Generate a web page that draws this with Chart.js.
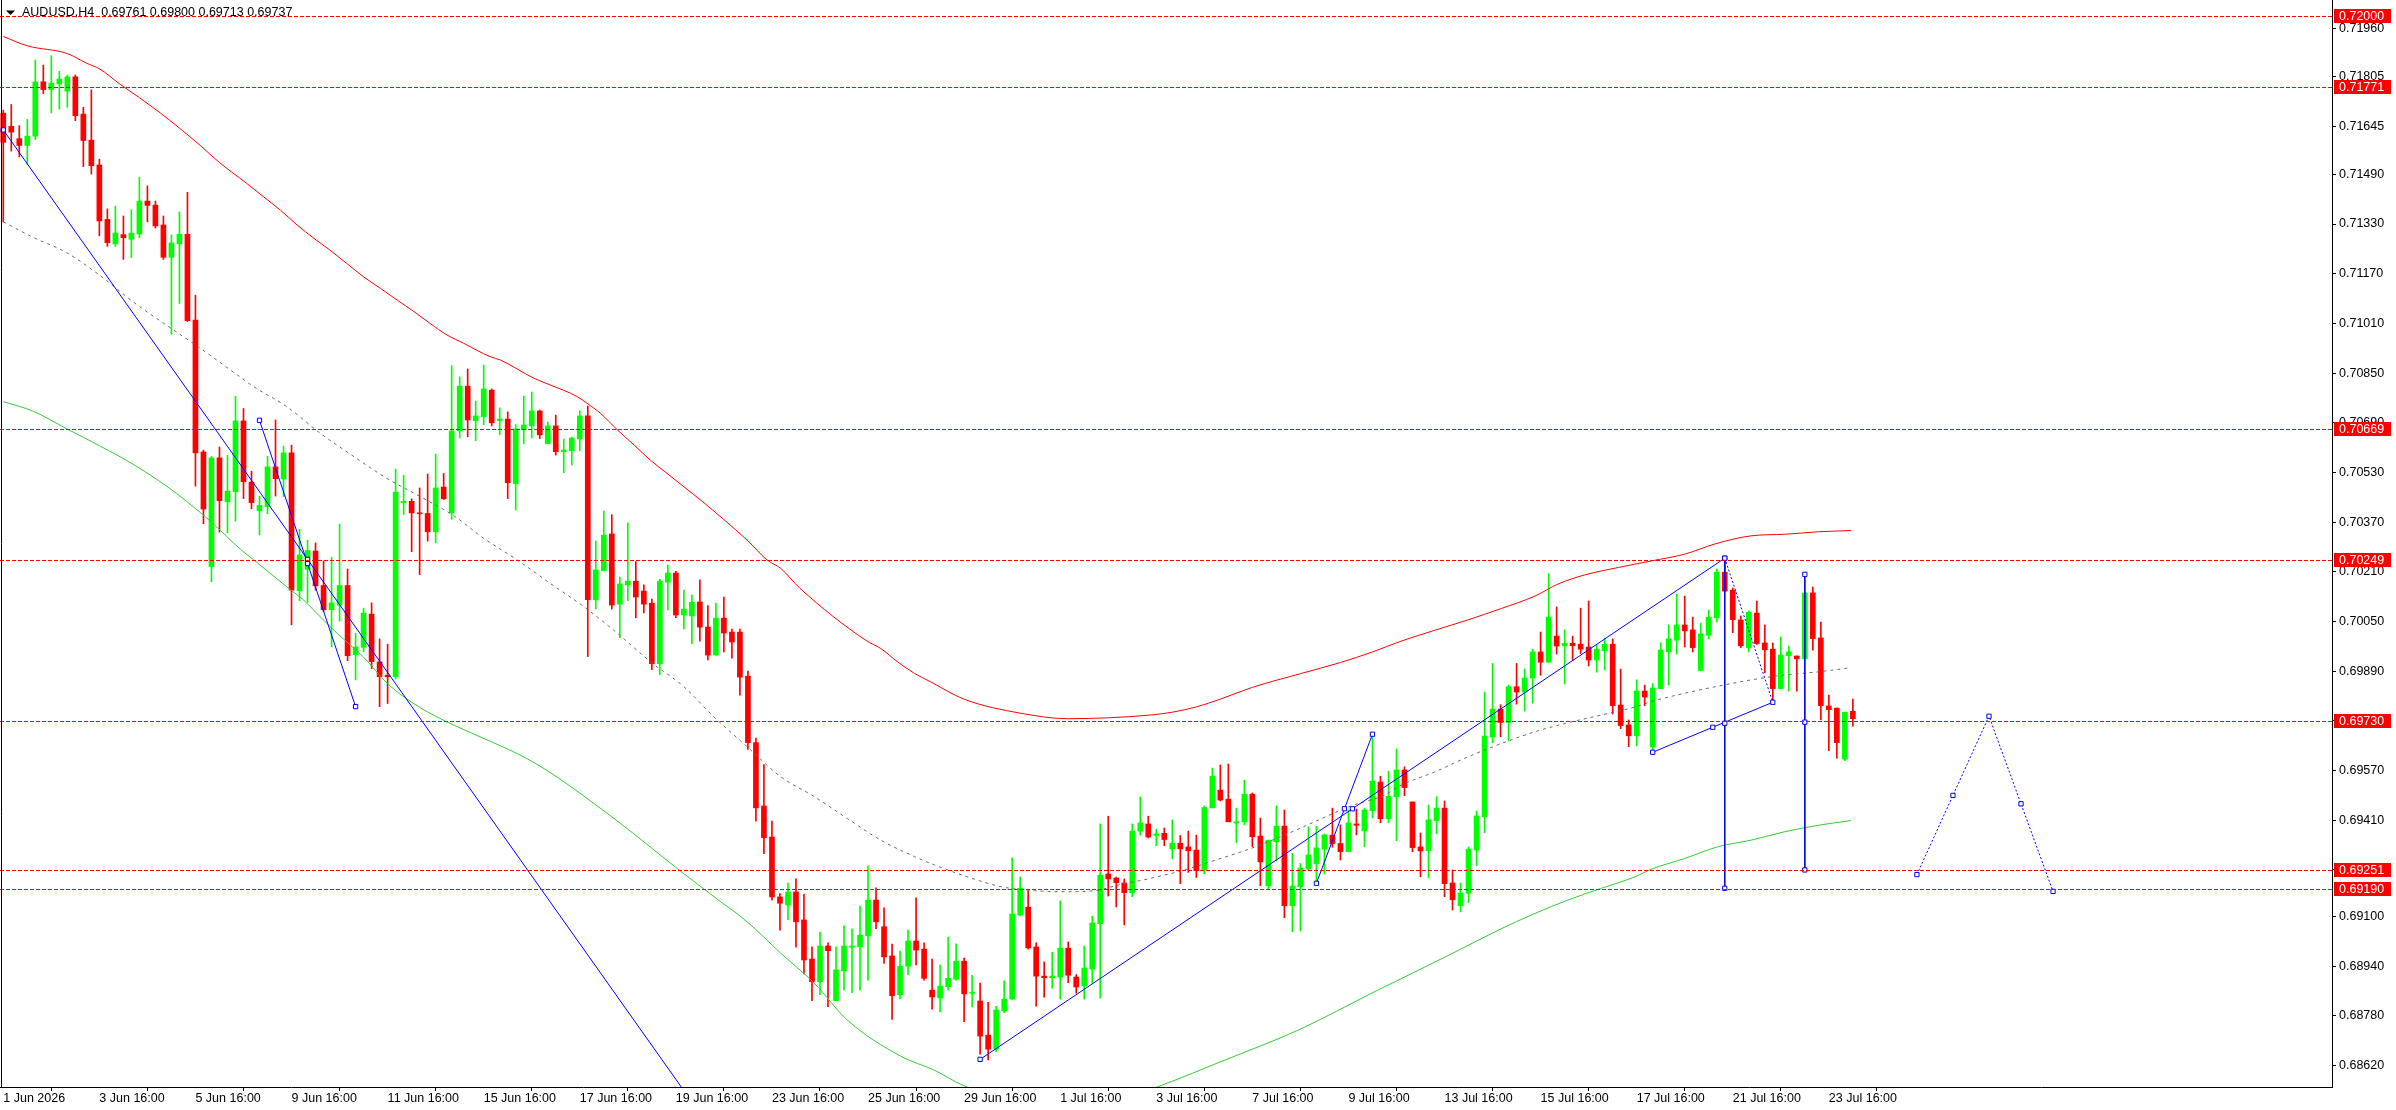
<!DOCTYPE html>
<html>
<head>
<meta charset="utf-8">
<title>AUDUSD,H4</title>
<script src="https://cdn.jsdelivr.net/npm/chart.js@4.4.1/dist/chart.umd.min.js"></script>
<style>
  html, body { margin: 0; padding: 0; background: #fff; overflow: hidden; }
  canvas { display: block; }
</style>
</head>
<body>
<canvas id="myChart" width="2396" height="1110"></canvas>
<script>
// H4 candles, index 0 = first bar on screen
const opens = [
  0.71687, 0.71645, 0.71605, 0.71583, 0.71613, 0.71788, 0.71763, 0.71781, 0.71758, 0.71804, 0.71684, 0.71600,
  0.71520, 0.71345, 0.71266, 0.71296, 0.71281, 0.71298, 0.71404, 0.71391, 0.71327, 0.71223, 0.71266, 0.71297,
  0.71021, 0.70596, 0.70227, 0.70577, 0.70436, 0.70468, 0.70696, 0.70499, 0.70407, 0.70420, 0.70548, 0.70509,
  0.70593, 0.70149, 0.70218, 0.70277, 0.70166, 0.70088, 0.70103, 0.70166, 0.69943, 0.69967, 0.70074, 0.69920,
  0.69877, 0.69872, 0.70433, 0.70437, 0.70400, 0.70398, 0.70339, 0.70483, 0.70400, 0.70664, 0.70808, 0.70697,
  0.70710, 0.70795, 0.70697, 0.70702, 0.70494, 0.70667, 0.70680, 0.70728, 0.70623, 0.70680, 0.70597, 0.70600,
  0.70638, 0.70712, 0.70120, 0.70214, 0.70332, 0.70106, 0.70168, 0.70180, 0.70148, 0.70109, 0.69914, 0.70177,
  0.70206, 0.70071, 0.70068, 0.70113, 0.70032, 0.69942, 0.70061, 0.70016, 0.70016, 0.69874, 0.69660, 0.69456,
  0.69356, 0.69163, 0.69137, 0.69179, 0.69089, 0.68963, 0.68890, 0.69005, 0.68829, 0.68925, 0.69001, 0.69003,
  0.69038, 0.69153, 0.69067, 0.68973, 0.68848, 0.68940, 0.69021, 0.68995, 0.68863, 0.68838, 0.68874, 0.68898,
  0.68956, 0.68853, 0.68828, 0.68718, 0.68673, 0.68796, 0.68834, 0.69105, 0.69130, 0.69002, 0.68908, 0.68903,
  0.68905, 0.68998, 0.68905, 0.68876, 0.68931, 0.69077, 0.69237, 0.69224, 0.69208, 0.69177, 0.69375, 0.69398,
  0.69361, 0.69368, 0.69318, 0.69336, 0.69324, 0.69314, 0.69250, 0.69450, 0.69507, 0.69478, 0.69401, 0.69405,
  0.69494, 0.69359, 0.69199, 0.69341, 0.69391, 0.69135, 0.69196, 0.69253, 0.69270, 0.69317, 0.69362, 0.69335,
  0.69309, 0.69398, 0.69376, 0.69441, 0.69533, 0.69415, 0.69486, 0.69572, 0.69469, 0.69324, 0.69312, 0.69409,
  0.69449, 0.69208, 0.69135, 0.69175, 0.69314, 0.69421, 0.69678, 0.69768, 0.69725, 0.69840, 0.69823, 0.69868,
  0.69952, 0.69919, 0.70003, 0.69972, 0.69980, 0.69977, 0.69968, 0.69926, 0.69956, 0.69977, 0.69781, 0.69717,
  0.69682, 0.69826, 0.69646, 0.69834, 0.69953, 0.69990, 0.70039, 0.70023, 0.69892, 0.70006, 0.70062, 0.70209,
  0.70151, 0.70055, 0.69966, 0.70077, 0.69981, 0.69961, 0.69834, 0.69940, 0.69939, 0.69930, 0.70142, 0.69997,
  0.69778, 0.69771, 0.69607, 0.69761
];
const highs = [
  0.71697, 0.71715, 0.71647, 0.71667, 0.71858, 0.71842, 0.71872, 0.71822, 0.71810, 0.71810, 0.71706, 0.71762,
  0.71539, 0.71379, 0.71388, 0.71356, 0.71376, 0.71481, 0.71453, 0.71404, 0.71356, 0.71295, 0.71369, 0.71432,
  0.71101, 0.70602, 0.70582, 0.70612, 0.70585, 0.70775, 0.70736, 0.70534, 0.70454, 0.70582, 0.70699, 0.70615,
  0.70618, 0.70347, 0.70312, 0.70303, 0.70245, 0.70257, 0.70364, 0.70219, 0.70012, 0.70093, 0.70110, 0.69994,
  0.69977, 0.70541, 0.70521, 0.70445, 0.70480, 0.70525, 0.70589, 0.70527, 0.70874, 0.70838, 0.70863, 0.70760,
  0.70876, 0.70799, 0.70738, 0.70725, 0.70684, 0.70776, 0.70789, 0.70731, 0.70692, 0.70715, 0.70638, 0.70644,
  0.70729, 0.70744, 0.70309, 0.70406, 0.70394, 0.70193, 0.70368, 0.70243, 0.70168, 0.70122, 0.70186, 0.70232,
  0.70212, 0.70151, 0.70135, 0.70184, 0.70101, 0.70109, 0.70129, 0.70026, 0.70026, 0.69890, 0.69675, 0.69589,
  0.69407, 0.69174, 0.69208, 0.69221, 0.69172, 0.69002, 0.69050, 0.69015, 0.69002, 0.69070, 0.69060, 0.69134,
  0.69263, 0.69192, 0.69128, 0.69011, 0.68989, 0.69056, 0.69160, 0.69015, 0.68963, 0.68944, 0.69034, 0.69012,
  0.68966, 0.68911, 0.68886, 0.68824, 0.68811, 0.68893, 0.69289, 0.69227, 0.69182, 0.69015, 0.68954, 0.68985,
  0.69150, 0.69018, 0.68913, 0.69005, 0.69101, 0.69398, 0.69423, 0.69227, 0.69221, 0.69398, 0.69485, 0.69423,
  0.69381, 0.69385, 0.69411, 0.69361, 0.69375, 0.69362, 0.69456, 0.69578, 0.69588, 0.69591, 0.69449, 0.69539,
  0.69498, 0.69417, 0.69346, 0.69456, 0.69443, 0.69304, 0.69271, 0.69389, 0.69391, 0.69366, 0.69449, 0.69395,
  0.69443, 0.69446, 0.69449, 0.69687, 0.69552, 0.69568, 0.69639, 0.69582, 0.69469, 0.69369, 0.69459, 0.69486,
  0.69472, 0.69250, 0.69208, 0.69324, 0.69440, 0.69823, 0.69915, 0.69782, 0.69845, 0.69915, 0.69897, 0.69961,
  0.70016, 0.70204, 0.70097, 0.70023, 0.70003, 0.70093, 0.70116, 0.69974, 0.69997, 0.69994, 0.69897, 0.69733,
  0.69862, 0.69845, 0.69850, 0.69982, 0.70039, 0.70139, 0.70132, 0.70064, 0.70045, 0.70087, 0.70219, 0.70254,
  0.70158, 0.70068, 0.70084, 0.70116, 0.70039, 0.69981, 0.70000, 0.69971, 0.69939, 0.70145, 0.70161, 0.70048,
  0.69813, 0.69771, 0.69758, 0.69800
];
const lows = [
  0.71337, 0.71565, 0.71546, 0.71522, 0.71602, 0.71750, 0.71688, 0.71700, 0.71706, 0.71663, 0.71515, 0.71491,
  0.71292, 0.71258, 0.71258, 0.71216, 0.71222, 0.71286, 0.71337, 0.71317, 0.71216, 0.70975, 0.71074, 0.71016,
  0.70486, 0.70365, 0.70178, 0.70338, 0.70336, 0.70373, 0.70446, 0.70413, 0.70329, 0.70397, 0.70454, 0.70452,
  0.70039, 0.70117, 0.70111, 0.70151, 0.70082, 0.69969, 0.70051, 0.69924, 0.69862, 0.69953, 0.69898, 0.69776,
  0.69786, 0.69865, 0.70395, 0.70275, 0.70201, 0.70309, 0.70304, 0.70443, 0.70379, 0.70641, 0.70645, 0.70632,
  0.70684, 0.70680, 0.70652, 0.70446, 0.70409, 0.70622, 0.70641, 0.70639, 0.70623, 0.70586, 0.70529, 0.70554,
  0.70600, 0.69937, 0.70090, 0.70214, 0.70090, 0.69998, 0.70117, 0.70062, 0.70078, 0.69895, 0.69879, 0.70087,
  0.70062, 0.70026, 0.69979, 0.69987, 0.69926, 0.69942, 0.69952, 0.69932, 0.69813, 0.69638, 0.69407, 0.69302,
  0.69153, 0.69056, 0.69090, 0.69001, 0.68915, 0.68829, 0.68848, 0.68810, 0.68829, 0.68863, 0.68855, 0.68863,
  0.68895, 0.69061, 0.68949, 0.68769, 0.68835, 0.68913, 0.68944, 0.68895, 0.68802, 0.68793, 0.68863, 0.68895,
  0.68761, 0.68809, 0.68657, 0.68638, 0.68665, 0.68790, 0.68834, 0.69102, 0.68995, 0.68811, 0.68840, 0.68869,
  0.68834, 0.68887, 0.68853, 0.68834, 0.68885, 0.68837, 0.69166, 0.69131, 0.69073, 0.69164, 0.69362, 0.69353,
  0.69328, 0.69328, 0.69286, 0.69206, 0.69242, 0.69226, 0.69238, 0.69450, 0.69472, 0.69405, 0.69338, 0.69395,
  0.69325, 0.69199, 0.69189, 0.69279, 0.69096, 0.69051, 0.69054, 0.69250, 0.69212, 0.69237, 0.69323, 0.69282,
  0.69309, 0.69363, 0.69325, 0.69418, 0.69402, 0.69402, 0.69344, 0.69489, 0.69309, 0.69228, 0.69225, 0.69367,
  0.69164, 0.69121, 0.69115, 0.69145, 0.69264, 0.69370, 0.69660, 0.69679, 0.69665, 0.69784, 0.69762, 0.69787,
  0.69877, 0.69919, 0.69945, 0.69849, 0.69926, 0.69947, 0.69907, 0.69887, 0.69894, 0.69752, 0.69705, 0.69647,
  0.69650, 0.69779, 0.69630, 0.69834, 0.69845, 0.69945, 0.69968, 0.69952, 0.69892, 0.69994, 0.70048, 0.70145,
  0.70014, 0.69966, 0.69952, 0.69976, 0.69885, 0.69797, 0.69834, 0.69826, 0.69826, 0.69930, 0.69958, 0.69733,
  0.69634, 0.69610, 0.69602, 0.69713
];
const closes = [
  0.71593, 0.71626, 0.71583, 0.71613, 0.71788, 0.71763, 0.71784, 0.71797, 0.71804, 0.71679, 0.71599, 0.71518,
  0.71340, 0.71270, 0.71301, 0.71286, 0.71301, 0.71404, 0.71390, 0.71324, 0.71223, 0.71269, 0.71297, 0.71019,
  0.70593, 0.70412, 0.70577, 0.70439, 0.70470, 0.70696, 0.70500, 0.70433, 0.70424, 0.70548, 0.70510, 0.70593,
  0.70151, 0.70264, 0.70279, 0.70165, 0.70088, 0.70110, 0.70166, 0.69940, 0.69968, 0.70077, 0.69921, 0.69872,
  0.69872, 0.70467, 0.70437, 0.70400, 0.70397, 0.70339, 0.70480, 0.70445, 0.70664, 0.70808, 0.70699, 0.70712,
  0.70799, 0.70690, 0.70702, 0.70497, 0.70670, 0.70683, 0.70728, 0.70651, 0.70680, 0.70597, 0.70602, 0.70641,
  0.70712, 0.70120, 0.70216, 0.70328, 0.70103, 0.70171, 0.70180, 0.70129, 0.70106, 0.69914, 0.70180, 0.70206,
  0.70071, 0.70090, 0.70112, 0.70032, 0.69942, 0.70061, 0.70013, 0.69984, 0.69871, 0.69660, 0.69450, 0.69354,
  0.69163, 0.69143, 0.69179, 0.69083, 0.68960, 0.68890, 0.69005, 0.68990, 0.68928, 0.69005, 0.69005, 0.69040,
  0.69153, 0.69083, 0.68970, 0.68845, 0.68940, 0.69021, 0.68992, 0.68901, 0.68841, 0.68876, 0.68901, 0.68956,
  0.68851, 0.68856, 0.68715, 0.68673, 0.68799, 0.68834, 0.69108, 0.69191, 0.68999, 0.68908, 0.68903, 0.68908,
  0.68998, 0.68911, 0.68873, 0.68934, 0.69079, 0.69233, 0.69221, 0.69209, 0.69177, 0.69375, 0.69401, 0.69356,
  0.69366, 0.69348, 0.69336, 0.69318, 0.69312, 0.69248, 0.69451, 0.69552, 0.69475, 0.69405, 0.69405, 0.69494,
  0.69357, 0.69276, 0.69346, 0.69391, 0.69135, 0.69198, 0.69256, 0.69298, 0.69321, 0.69363, 0.69335, 0.69309,
  0.69401, 0.69394, 0.69443, 0.69536, 0.69415, 0.69487, 0.69572, 0.69515, 0.69322, 0.69311, 0.69411, 0.69449,
  0.69206, 0.69154, 0.69176, 0.69317, 0.69424, 0.69681, 0.69768, 0.69725, 0.69840, 0.69823, 0.69868, 0.69952,
  0.69919, 0.70064, 0.69971, 0.69980, 0.69972, 0.69961, 0.69926, 0.69961, 0.69977, 0.69779, 0.69715, 0.69682,
  0.69826, 0.69807, 0.69836, 0.69958, 0.69994, 0.70039, 0.70020, 0.69966, 0.70010, 0.70064, 0.70209, 0.70148,
  0.70056, 0.69972, 0.70080, 0.69979, 0.69959, 0.69834, 0.69942, 0.69952, 0.69930, 0.70142, 0.69995, 0.69779,
  0.69766, 0.69660, 0.69758, 0.69737
];

// moving averages at bar positions
const slowMaX = [0, 3, 8, 10.4, 12, 14.6, 17, 19.6, 22, 24.6, 27, 30.4, 32.5, 34.6, 36.7, 38.8, 40.8, 42.9, 45, 47.1,
  49.2, 51.3, 53.3, 55.4, 57.5, 60.8, 62.1, 66.3, 68.3, 71.7, 72.9, 74.6, 76.7, 78.8, 80.8, 82.9, 85, 87.1, 92.9, 95.4,
  97.1, 99.5, 107.7, 109.6, 111.7, 113.8, 115.8, 120, 127, 133, 138, 143.3, 146, 149, 152, 156, 162, 167, 171,
  174.6, 178.8, 182.9, 187.1, 191.3, 194.2, 197.5, 201.7, 205.8, 210, 213.8, 218.3, 222.5, 226.7, 230.8];
const slowMa = [0.71934, 0.71904, 0.71879, 0.71848, 0.71830, 0.71780, 0.71737, 0.71688, 0.71639, 0.71583, 0.71528,
  0.71461, 0.71418, 0.71375, 0.71327, 0.71284, 0.71246, 0.71203, 0.71160, 0.71123, 0.71085, 0.71048, 0.71010, 0.70973,
  0.70946, 0.70903, 0.70892, 0.70833, 0.70812, 0.70774, 0.70753, 0.70720, 0.70667, 0.70618, 0.70570, 0.70527, 0.70484,
  0.70441, 0.70312, 0.70248, 0.70221, 0.70157, 0.69990, 0.69963, 0.69920, 0.69883, 0.69856, 0.69800, 0.69755, 0.69737,
  0.69740, 0.69749, 0.69758, 0.69775, 0.69800, 0.69838, 0.69882, 0.69918, 0.69952, 0.69987, 0.70022, 0.70055, 0.70092,
  0.70132, 0.70171, 0.70200, 0.70224, 0.70245, 0.70267, 0.70300, 0.70326, 0.70331, 0.70339, 0.70343];

const midMaX = [0, 3.75, 7.9, 12.1, 16.3, 20.4, 24.6, 29.6, 31.3, 35.4, 39.6, 43.8, 47.9, 52.1, 56.3, 60, 64.2, 68.3,
  72.5, 76.7, 80.8, 85, 88.75, 92.9, 97.1, 101.3, 105.4, 109.6, 113.8, 116.3, 120.4, 124.6, 128.8, 132.9, 136.3, 139.2,
  143.3, 147.5, 151.7, 155.8, 160, 164.2, 168.3, 172.5, 174.6, 178.8, 182.9, 187.1, 191.3, 195.4, 199.6, 203.8, 205.8,
  210, 214.2, 218.3, 222.5, 226.7, 230.6];
const midMa = [0.71337, 0.71287, 0.71238, 0.71164, 0.71078, 0.71004, 0.70930, 0.70837, 0.70806, 0.70742, 0.70656,
  0.70581, 0.70511, 0.70452, 0.70390, 0.70318, 0.70248, 0.70173, 0.70098, 0.70012, 0.69921, 0.69840, 0.69743, 0.69647,
  0.69550, 0.69486, 0.69416, 0.69346, 0.69293, 0.69266, 0.69228, 0.69196, 0.69183, 0.69180, 0.69183, 0.69201, 0.69223,
  0.69250, 0.69284, 0.69319, 0.69362, 0.69410, 0.69456, 0.69491, 0.69523, 0.69566, 0.69614, 0.69657, 0.69695, 0.69724,
  0.69749, 0.69775, 0.69792, 0.69819, 0.69842, 0.69862, 0.69878, 0.69888, 0.69901];

const fastMaX = [0, 3.75, 7.9, 12.1, 16.3, 20.4, 22.9, 26.3, 29.6, 31.3, 35.4, 37.5, 39.6, 41.7, 45, 48, 51, 54.9,
  57.7, 66.4, 75.9, 84.6, 88.75, 92.9, 97.1, 101.3, 105.4, 112.1, 116.3, 119.8, 125, 132, 138, 144, 152.2, 161.7,
  171.2, 180.8, 186.7, 191.3, 195.4, 199.6, 203.8, 205.8, 210, 214.2, 218.3, 222.5, 226.7, 230.8];
const fastMa = [0.70758, 0.70727, 0.70671, 0.70615, 0.70555, 0.70486, 0.70437, 0.70363, 0.70283, 0.70248, 0.70162,
  0.70119, 0.70065, 0.70012, 0.69935, 0.69850, 0.69790, 0.69733, 0.69700, 0.69594, 0.69423, 0.69246, 0.69164, 0.69083,
  0.68982, 0.68885, 0.68767, 0.68650, 0.68605, 0.68557, 0.68510, 0.68480, 0.68500, 0.68550, 0.68634, 0.68734, 0.68857,
  0.68979, 0.69056, 0.69110, 0.69153, 0.69191, 0.69228, 0.69252, 0.69287, 0.69325, 0.69346, 0.69373, 0.69394, 0.69409];

// drawn objects: [bar index, price]
const trendDown = [[0, 0.71633], [86, 0.68503]];
const trendShort = [[32, 0.70698], [44, 0.69776]];
const trendUp = [[122, 0.68640], [215, 0.70254]];
const swingLine = [[164, 0.69207], [171, 0.69687]];
const vLineA = [[215, 0.70254], [215, 0.69191]];
const vLineB = [[225, 0.70202], [225, 0.69250]];
const lowerEdge = [[206, 0.69629], [221, 0.69790]];
const dropLine = [[215, 0.70254], [221, 0.69790]];
const projection = [[239, 0.69235], [248, 0.69745], [256, 0.69181]];

const levels = [0.72000, 0.71771, 0.70669, 0.70249, 0.69730, 0.69251, 0.69190];
const priceTicks = [0.71960, 0.71805, 0.71645, 0.71490, 0.71330, 0.71170, 0.71010, 0.70850, 0.70690, 0.70530,
  0.70370, 0.70210, 0.70050, 0.69890, 0.69730, 0.69570, 0.69410, 0.69250, 0.69100, 0.68940, 0.68780, 0.68620];
const timeTickIdx = [0, 12, 24, 36, 48, 60, 72, 84, 96, 108, 120, 132, 144, 156, 168, 180, 192, 204, 216, 228];
const timeLabels = ['1 Jun 2026', '3 Jun 16:00', '5 Jun 16:00', '9 Jun 16:00', '11 Jun 16:00', '15 Jun 16:00',
  '17 Jun 16:00', '19 Jun 16:00', '23 Jun 16:00', '25 Jun 16:00', '29 Jun 16:00', '1 Jul 16:00', '3 Jul 16:00',
  '7 Jul 16:00', '9 Jul 16:00', '13 Jul 16:00', '15 Jul 16:00', '17 Jul 16:00', '21 Jul 16:00', '23 Jul 16:00'];

const UP = '#00ff00';
const DOWN = '#ff0000';
const BLUE = '#0000ff';
const FONT = "'Liberation Sans', Arial, sans-serif";

Chart.defaults.font.family = FONT;
Chart.defaults.font.size = 12.5;
Chart.defaults.color = '#000000';

const candleColors = closes.map((c, i) => (c >= opens[i] ? UP : DOWN));
const wickData = lows.map((l, i) => ({ x: i, y: [l, highs[i]] }));
const bodyData = opens.map((o, i) => ({ x: i, y: [o, closes[i]] }));

function maPoints(xs, ys) {
  return xs.map((x, i) => ({ x: x, y: ys[i] }));
}

function objLine(pts, opts) {
  return Object.assign({
    type: 'line',
    data: pts.map(p => ({ x: p[0], y: p[1] })),
    borderColor: BLUE,
    borderWidth: 1,
    pointRadius: 3,
    pointStyle: 'rect',
    pointBackgroundColor: '#ffffff',
    pointBorderColor: BLUE,
    pointBorderWidth: 1,
    tension: 0,
    order: 1
  }, opts || {});
}

// small squares in the middle of each selected segment, like the terminal shows
const segs = [trendShort, trendUp, swingLine, vLineA, vLineB, lowerEdge,
  [projection[0], projection[1]], [projection[1], projection[2]]];
const midMarks = segs.map(s => ({ x: (s[0][0] + s[1][0]) / 2, y: (s[0][1] + s[1][1]) / 2 }));
midMarks.push({ x: 38, y: trendDown[0][1] + (trendDown[1][1] - trendDown[0][1]) * 38 / 86 });

const levelPlugin = {
  id: 'levels',
  afterDatasetsDraw(chart) {
    const { ctx, chartArea } = chart;
    const y = chart.scales.y;
    ctx.save();
    ctx.strokeStyle = '#ff0000';
    ctx.lineWidth = 1;
    ctx.setLineDash([4, 2]);
    levels.forEach(v => {
      const py = Math.round(y.getPixelForValue(v)) + 0.5;
      ctx.beginPath();
      ctx.moveTo(chartArea.left, py);
      ctx.lineTo(chartArea.right, py);
      ctx.stroke();
    });
    ctx.restore();
  },
  afterDraw(chart) {
    const { ctx, chartArea } = chart;
    const y = chart.scales.y;
    ctx.save();
    // left frame edge
    ctx.strokeStyle = '#000000';
    ctx.lineWidth = 1;
    ctx.beginPath();
    ctx.moveTo(1.5, chartArea.top);
    ctx.lineTo(1.5, chartArea.bottom);
    ctx.stroke();
    // price boxes on the axis
    ctx.font = '12.5px ' + FONT;
    ctx.textBaseline = 'middle';
    ctx.textAlign = 'left';
    levels.forEach(v => {
      const py = Math.round(y.getPixelForValue(v));
      ctx.fillStyle = '#ff0000';
      ctx.fillRect(chartArea.right + 2, py - 7, 57, 14);
      ctx.fillStyle = '#ffffff';
      ctx.fillText(v.toFixed(5), chartArea.right + 7, py + 1);
    });
    // title
    ctx.fillStyle = '#000000';
    ctx.beginPath();
    ctx.moveTo(6, 10.5);
    ctx.lineTo(15, 10.5);
    ctx.lineTo(10.5, 15);
    ctx.closePath();
    ctx.fill();
    const n = closes.length - 1;
    const title = 'AUDUSD,H4  ' + [opens[n], highs[n], lows[n], closes[n]].map(v => v.toFixed(5)).join(' ');
    ctx.textBaseline = 'alphabetic';
    ctx.fillText(title, 22, 16);
    ctx.restore();
  }
};

var ctx = document.getElementById('myChart');
var myChart = new Chart(ctx, {
  type: 'bar',
  data: {
    datasets: [
      {
        data: wickData,
        backgroundColor: candleColors,
        barThickness: 1,
        grouped: false,
        order: 10
      },
      {
        data: bodyData,
        backgroundColor: candleColors,
        barThickness: 5,
        minBarLength: 1,
        grouped: false,
        order: 9
      },
      {
        type: 'line',
        data: maPoints(slowMaX, slowMa),
        borderColor: '#ff0000',
        borderWidth: 1,
        pointRadius: 0,
        cubicInterpolationMode: 'monotone',
        order: 5
      },
      {
        type: 'line',
        data: maPoints(midMaX, midMa),
        borderColor: '#6a6a6a',
        borderWidth: 1,
        borderDash: [3, 4],
        pointRadius: 0,
        cubicInterpolationMode: 'monotone',
        order: 5
      },
      {
        type: 'line',
        data: maPoints(fastMaX, fastMa),
        borderColor: '#32cd32',
        borderWidth: 1,
        pointRadius: 0,
        cubicInterpolationMode: 'monotone',
        order: 5
      },
      objLine(trendDown, { pointRadius: [3, 0] }),
      objLine(trendShort),
      objLine(trendUp),
      objLine(swingLine),
      objLine(vLineA),
      objLine(vLineB),
      objLine(lowerEdge),
      objLine(dropLine, { borderDash: [2, 2], pointRadius: 0 }),
      objLine(projection, { borderDash: [2, 2] }),
      {
        type: 'line',
        data: midMarks,
        showLine: false,
        pointRadius: 3,
        pointStyle: 'rect',
        pointBackgroundColor: '#ffffff',
        pointBorderColor: BLUE,
        pointBorderWidth: 1,
        order: 0
      }
    ]
  },
  plugins: [levelPlugin],
  options: {
    responsive: false,
    animation: false,
    layout: { padding: 0, autoPadding: false },
    plugins: {
      legend: { display: false },
      tooltip: { enabled: false }
    },
    scales: {
      x: {
        type: 'linear',
        min: -0.41,
        max: 290.84,
        offset: false,
        grid: { display: true, drawOnChartArea: false, drawTicks: true, tickLength: 4, color: '#000000' },
        border: { display: true, color: '#000000', width: 1 },
        ticks: {
          autoSkip: false,
          maxRotation: 0,
          align: 'start',
          padding: 0,
          color: '#000000',
          callback: (v) => timeLabels[timeTickIdx.indexOf(v)]
        },
        afterBuildTicks: (axis) => { axis.ticks = timeTickIdx.map(v => ({ value: v })); },
        afterFit: (axis) => { axis.height = 23; axis.paddingLeft = 0; axis.paddingRight = 0; }
      },
      y: {
        position: 'right',
        min: 0.68551,
        max: 0.720515,
        grid: { display: true, drawOnChartArea: false, drawTicks: true, tickLength: 4, color: '#000000' },
        border: { display: true, color: '#000000', width: 1 },
        ticks: {
          padding: 3,
          color: '#000000',
          callback: (v) => Number(v).toFixed(5)
        },
        afterBuildTicks: (axis) => { axis.ticks = priceTicks.map(v => ({ value: v })); },
        afterFit: (axis) => { axis.width = 64; axis.paddingTop = 0; axis.paddingBottom = 0; }
      }
    }
  }
});
</script>
</body>
</html>
